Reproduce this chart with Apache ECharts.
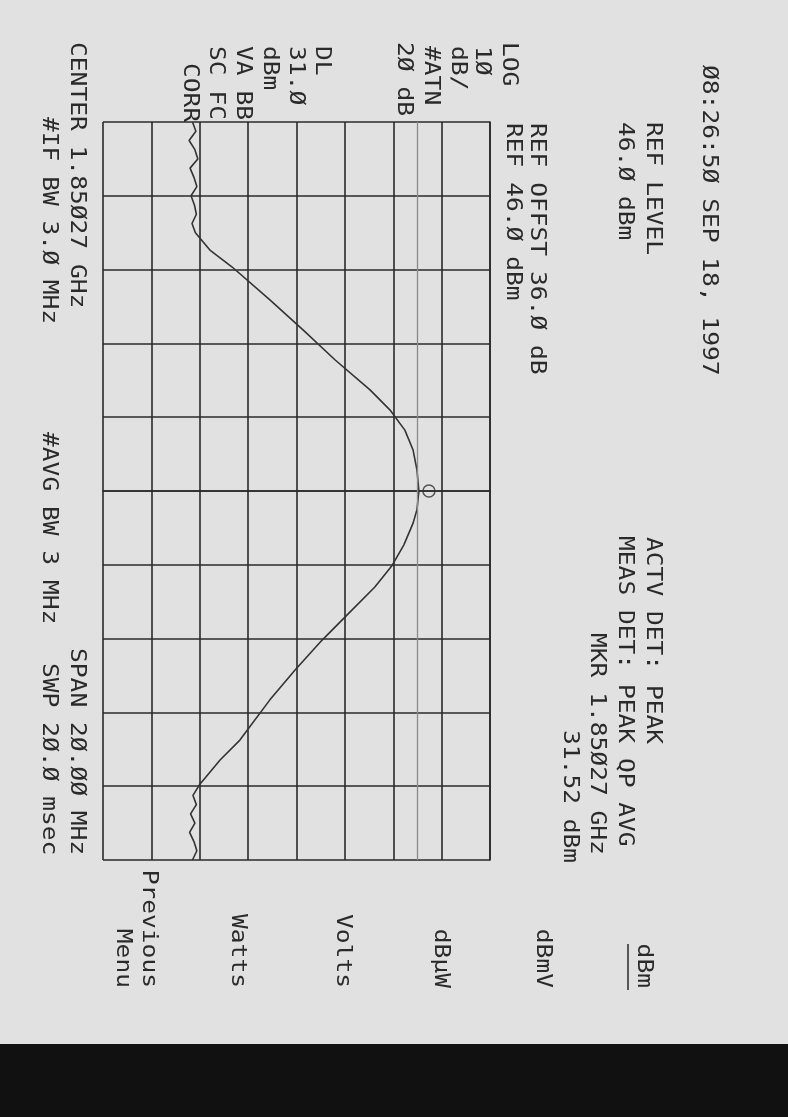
<!DOCTYPE html>
<html>
<head>
<meta charset="utf-8">
<script src="https://cdn.jsdelivr.net/npm/echarts@6/dist/echarts.min.js"></script>
<style>
html,body{margin:0;padding:0;background:#e1e1e1;}
#chart{width:788px;height:1117px;}
</style>
</head>
<body>
<div id="chart"></div>
<script>
// ---- data ----
const REF_LEVEL_DBM = 46;          // reference level (top of screen)
const DB_PER_DIV = 10;
const SPAN_MHZ = 20;
const freqOffsetMHz = [-10,-9.75,-9.5,-9.25,-9,-8.75,-8.5,-8.25,-8,-7.75,-7.5,-7.25,-7.0,
  -6.53,-6.07,-5.18,-4.36,-3.55,-2.74,-2.2,-1.65,-1.11,-0.57,0,0.51,0.87,1.46,2.01,2.6,3.22,
  4.04,4.85,5.66,6.75,7.29,7.97,8.25,8.5,8.75,9,9.25,9.5,9.75,10];
const levelDbm = [-15.5,-14.8,-16.2,-15.0,-14.4,-16.0,-15.2,-14.6,-15.8,-15.1,-14.7,-15.6,-14.9,
  -11.9,-7.3,0.5,7.4,14.0,21.2,25.3,28.4,30.1,30.9,31.3,30.9,30.1,28.2,25.8,22.2,17.5,
  11.3,5.7,0.5,-5.7,-9.8,-14.1,-15.4,-14.7,-15.9,-15.0,-16.1,-15.2,-14.6,-15.5];
const markerOffsetMHz = [0];
const markerLevelDbm = [31.52];
const displayLineDbm = [31.0];

// ---- texts ----
const headerTexts = ['Ø8:26:5Ø SEP 18, 1997','REF LEVEL','46.Ø dBm','REF OFFST 36.Ø dB','REF 46.Ø dBm',
  'ACTV DET: PEAK','MEAS DET: PEAK QP AVG','MKR 1.85Ø27 GHz','31.52 dBm'];
const sideTexts = ['LOG','1Ø','dB/','#ATN','2Ø dB','DL','31.Ø','dBm','VA BB','SC FC','CORR'];
const footerTexts = ['CENTER 1.85Ø27 GHz','#IF BW 3.Ø MHz','#AVG BW 3 MHz','SPAN 2Ø.ØØ MHz','SWP 2Ø.Ø msec'];
const softkeyTexts = ['dBm','dBmV','dBµW','Volts','Watts','Previous','Menu'];

// ---- layout (screen positions of rotated text columns) ----
const headerPos = [[708,65],[652,122],[624,122],[536,123],[512,123],[652,537],[624,536],[596,633],[569,730]];
const sidePos = [[508,42],[481,46],[457,46],[430,46],[403,42],[321,46],[295,46],[269,46],[242,46],[215,46],[189,63]];
const footerPos = [[76,42],[48,117],[48,432],[76,648],[48,663]];
const softkeyPos = [643,542,440,342,237,148,122];
const SOFTKEY_END = 988;

const FONT = '21px "DejaVu Sans Mono"';
const SX = 1.17;
const INK = '#2a2a2a';

function rotText(txt, x, y, align) {
  return {
    type: 'text', x: x, y: y, rotation: -Math.PI / 2, scaleX: SX, silent: true,
    style: {
      text: txt, x: 0, y: 0, font: FONT, fill: INK,
      align: align, verticalAlign: 'middle',
      textAlign: align, textVerticalAlign: 'middle'
    }
  };
}

const graphics = [];
headerTexts.forEach((t, i) => graphics.push(rotText(t, headerPos[i][0], headerPos[i][1], 'left')));
sideTexts.forEach((t, i) => graphics.push(rotText(t, sidePos[i][0], sidePos[i][1], 'left')));
footerTexts.forEach((t, i) => graphics.push(rotText(t, footerPos[i][0], footerPos[i][1], 'left')));
softkeyTexts.forEach((t, i) => graphics.push(rotText(t, softkeyPos[i], SOFTKEY_END, 'right')));
// underline of the active softkey (dBm)
graphics.push({type: 'line', silent: true, shape: {x1: 628, y1: 944, x2: 628, y2: 990},
  style: {stroke: INK, lineWidth: 1.5}});
// dark band at the bottom of the scan
graphics.push({type: 'rect', silent: true, shape: {x: 0, y: 1044, width: 788, height: 73},
  style: {fill: '#111111'}});

const rel = v => v - REF_LEVEL_DBM;
const traceData = freqOffsetMHz.map((f, i) => [rel(levelDbm[i]), f]);
const markerData = markerOffsetMHz.map((f, i) => [rel(markerLevelDbm[i]), f]);

const gridLine = {color: '#2a2a2a', width: 1.6};

const chart = echarts.init(document.getElementById('chart'), null, {renderer: 'canvas'});
chart.setOption({
  backgroundColor: '#e1e1e1',
  animation: false,
  grid: {left: 103, right: 298, top: 122, bottom: 257},
  xAxis: {
    type: 'value', min: -8 * DB_PER_DIV, max: 0, interval: DB_PER_DIV, position: 'bottom',
    axisLine: {show: true, lineStyle: gridLine}, axisTick: {show: false}, axisLabel: {show: false},
    splitLine: {show: true, lineStyle: gridLine}
  },
  yAxis: {
    type: 'value', inverse: true, min: -SPAN_MHZ / 2, max: SPAN_MHZ / 2, interval: SPAN_MHZ / 10, position: 'left',
    axisLine: {show: true, lineStyle: gridLine}, axisTick: {show: false}, axisLabel: {show: false},
    splitLine: {show: true, lineStyle: gridLine}
  },
  series: [
    {
      type: 'line', data: traceData, showSymbol: false, symbol: 'none',
      lineStyle: {color: '#333333', width: 1.6},
      markLine: {
        silent: true, symbol: 'none', label: {show: false},
        lineStyle: {color: '#8a8a8a', width: 1.3, type: 'solid'},
        data: displayLineDbm.map(v => ({xAxis: rel(v)}))
      },
      z: 3
    },
    {
      type: 'scatter', data: markerData, symbol: 'circle', symbolSize: 12, symbolOffset: [9, 0],
      itemStyle: {color: 'rgba(0,0,0,0)', borderColor: '#333', borderWidth: 1.5}, z: 4
    }
  ],
  graphic: graphics
});
</script>
</body>
</html>
